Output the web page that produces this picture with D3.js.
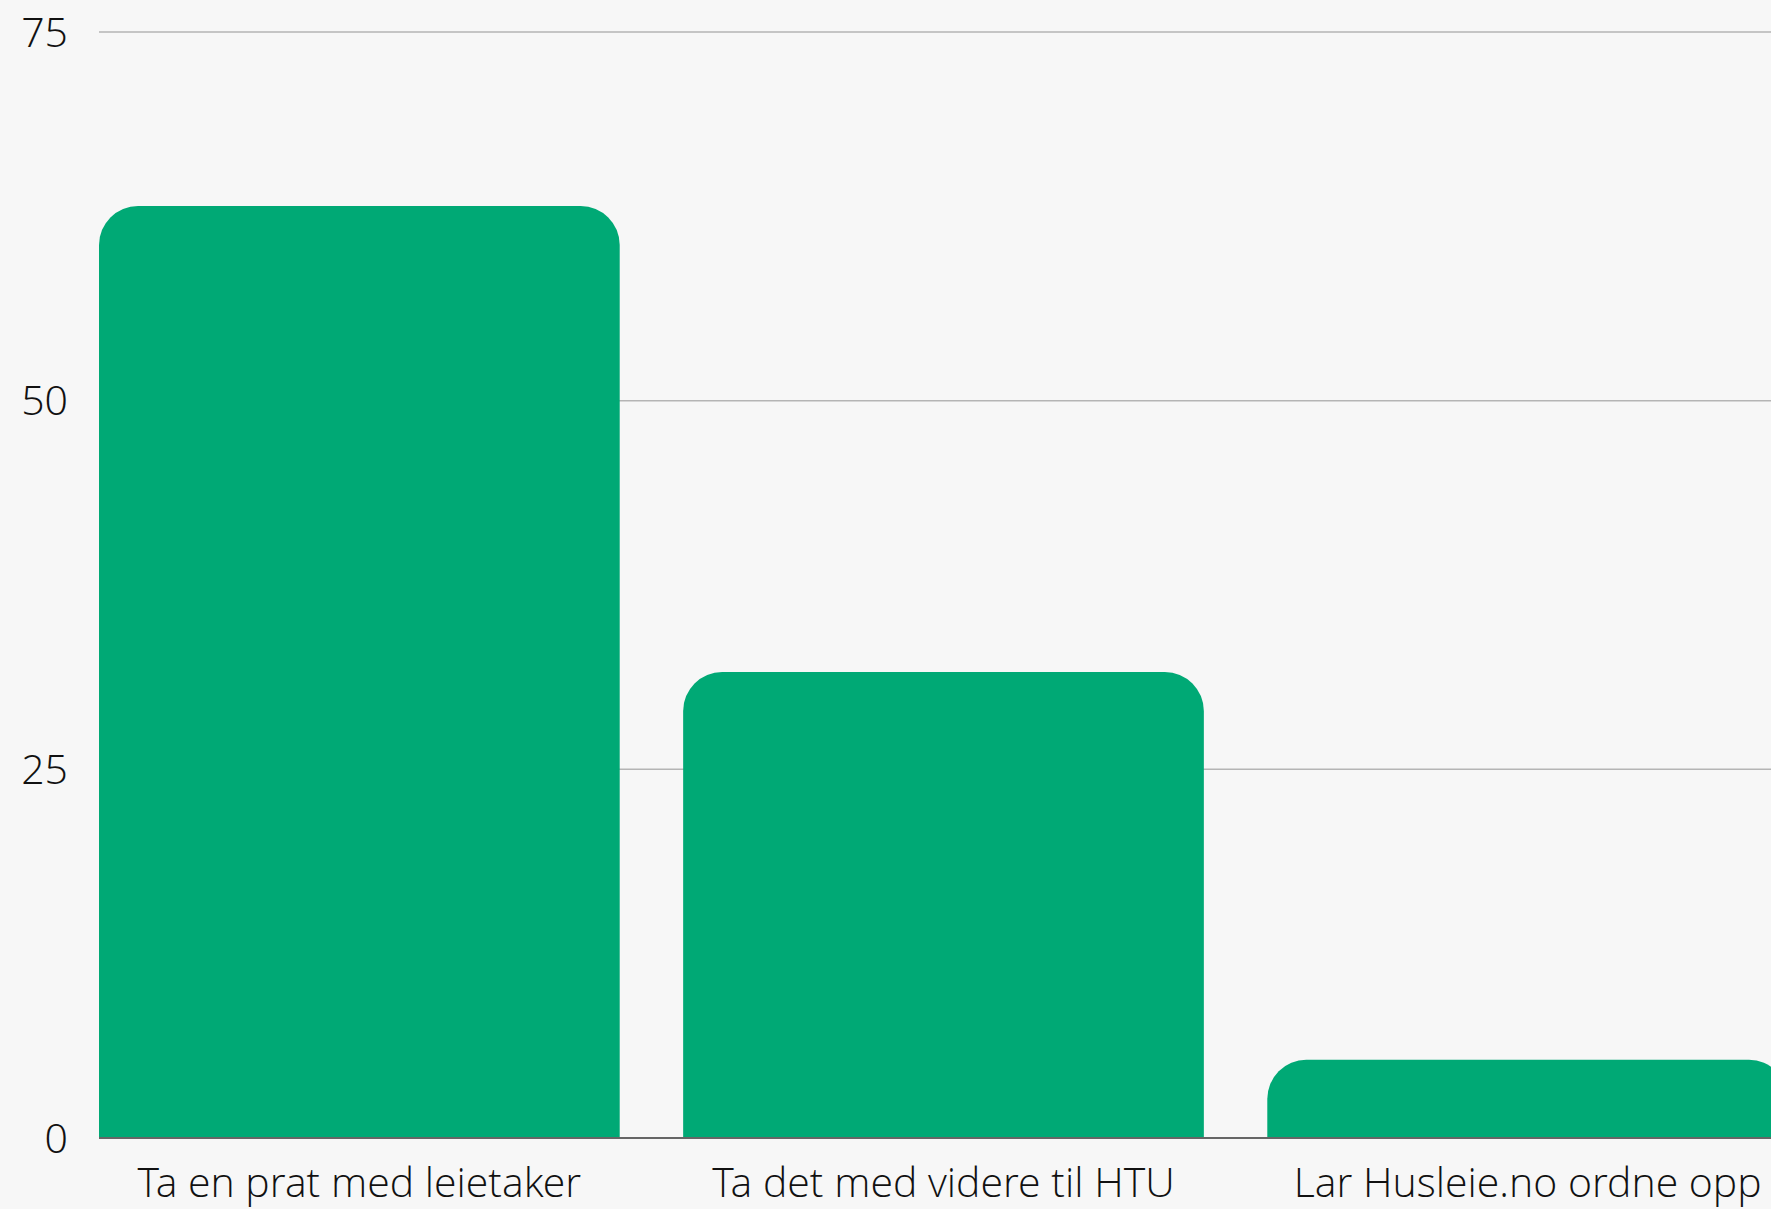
<!DOCTYPE html>
<html>
<head>
<meta charset="utf-8">
<script src="https://cdn.jsdelivr.net/npm/d3@7"></script>
<style>
  html, body { margin: 0; padding: 0; background: #f7f7f7; }
  svg { display: block; font-family: "Open Sans Light", "Open Sans", sans-serif; font-weight: 300; }
</style>
</head>
<body>
<svg id="chart" width="1771" height="1209"></svg>
<script>
// categories and values (percent of answers)
var categories = ["Ta en prat med leietaker", "Ta det med videre til HTU", "Lar Husleie.no ordne opp"];
var values = [63.2, 31.6, 5.3];
var yTicks = [0, 25, 50, 75];

var svg = d3.select("#chart");
var svgWidth = +svg.attr("width");
var svgHeight = +svg.attr("height");

var padding = {t: 32, r: -17, b: 71, l: 99};
var chartBottom = svgHeight - padding.b;

var x = d3.scaleBand()
	.domain(categories)
	.range([padding.l, svgWidth - padding.r])
	.paddingInner(0.1086)
	.paddingOuter(0);

var y = d3.scaleLinear()
	.domain([0, 75])
	.range([chartBottom, padding.t]);

// grid lines
svg.append("g")
	.selectAll("line")
	.data(yTicks.filter(function(d) { return d > 0; }))
	.join("line")
	.attr("x1", padding.l)
	.attr("x2", svgWidth)
	.attr("y1", function(d) { return y(d); })
	.attr("y2", function(d) { return y(d); })
	.attr("stroke", "#b5b5b5")
	.attr("stroke-width", 1.5);

// tick labels
svg.append("g")
	.selectAll("text")
	.data(yTicks)
	.join("text")
	.attr("x", 68)
	.attr("y", function(d) { return y(d); })
	.attr("dy", "0.36em")
	.attr("text-anchor", "end")
	.attr("fill", "#111")
	.style("font-size", "41px")
	.text(function(d) { return d; });

// bars with rounded top corners
var r = 39;
function barPath(d, i) {
	var x0 = x(categories[i]), x1 = x0 + x.bandwidth();
	var y0 = y(d), y1 = y(0);
	var rr = Math.min(r, (y1 - y0));
	return "M" + x0 + "," + y1 +
		"V" + (y0 + rr) +
		"A" + rr + "," + rr + " 0 0 1 " + (x0 + rr) + "," + y0 +
		"H" + (x1 - rr) +
		"A" + rr + "," + rr + " 0 0 1 " + x1 + "," + (y0 + rr) +
		"V" + y1 + "Z";
}

svg.append("g")
	.selectAll("path")
	.data(values)
	.join("path")
	.attr("d", barPath)
	.attr("fill", "#00a975");

// baseline
svg.append("line")
	.attr("x1", padding.l)
	.attr("x2", svgWidth)
	.attr("y1", y(0))
	.attr("y2", y(0))
	.attr("stroke", "#666")
	.attr("stroke-width", 2);

// category labels
svg.append("g")
	.selectAll("text")
	.data(categories)
	.join("text")
	.attr("x", function(d) { return x(d) + x.bandwidth() / 2; })
	.attr("y", chartBottom + 59)
	.attr("text-anchor", "middle")
	.attr("fill", "#111")
	.style("font-size", "41px")
	.text(function(d) { return d; });
</script>
</body>
</html>
